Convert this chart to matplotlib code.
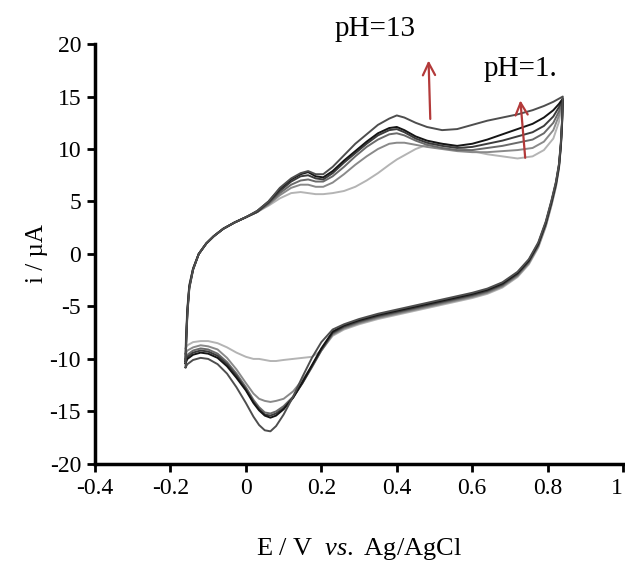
import numpy as np
import matplotlib
matplotlib.use("Agg")
import matplotlib.pyplot as plt

# potential grids (V vs Ag/AgCl): forward (anodic) and reverse (cathodic) sweeps
E_fwd = [-0.160, -0.158, -0.155, -0.150, -0.140, -0.125, -0.105, -0.085, -0.060, -0.030,
         0.000, 0.030, 0.060, 0.090, 0.120, 0.145, 0.165, 0.185, 0.205, 0.230,
         0.260, 0.290, 0.320, 0.350, 0.380, 0.400, 0.420, 0.450, 0.480, 0.520,
         0.560, 0.600, 0.640, 0.680, 0.720, 0.760, 0.790, 0.815, 0.830, 0.840]
E_rev = [0.840, 0.838, 0.835, 0.830, 0.822, 0.810, 0.795, 0.775, 0.750, 0.720,
         0.680, 0.640, 0.600, 0.550, 0.500, 0.450, 0.400, 0.350, 0.300, 0.260,
         0.230, 0.200, 0.175, 0.150, 0.125, 0.100, 0.080, 0.065, 0.050, 0.035,
         0.020, 0.000, -0.025, -0.050, -0.075, -0.100, -0.120, -0.140, -0.155, -0.160]

# currents (uA), from pH=1 (lightest) to pH=13
i1_fwd = [-9.0, -7.0, -5.0, -2.9, -1.4, 0.0, 1.0, 1.7, 2.4, 3.0,
          3.5, 4.0, 4.6, 5.3, 5.8, 5.9, 5.8, 5.7, 5.7, 5.8,
          6.0, 6.4, 7.0, 7.7, 8.5, 9.0, 9.4, 10.0, 10.4, 10.5,
          10.2, 9.8, 9.5, 9.3, 9.1, 9.3, 9.9, 11.0, 12.6, 14.8]
i1_rev = [14.8, 12.4, 10.3, 8.2, 6.4, 4.6, 2.6, 0.6, -1.0, -2.2,
          -3.2, -3.8, -4.2, -4.6, -5.0, -5.4, -5.8, -6.2, -6.7, -7.2,
          -7.8, -9.2, -9.8, -9.9, -10.0, -10.1, -10.2, -10.2, -10.1, -10.0,
          -10.0, -9.8, -9.4, -8.9, -8.5, -8.3, -8.3, -8.4, -8.7, -9.0]

i2_fwd = [-9.5, -7.5, -5.2, -3.0, -1.4, 0.0, 1.0, 1.7, 2.4, 3.0,
          3.5, 4.0, 4.7, 5.6, 6.3, 6.6, 6.6, 6.4, 6.4, 6.8,
          7.6, 8.5, 9.3, 10.0, 10.5, 10.6, 10.6, 10.4, 10.2, 10.0,
          9.8, 9.7, 9.7, 9.8, 9.9, 10.1, 10.7, 11.8, 13.2, 14.6]
i2_rev = [14.6, 12.2, 10.2, 8.2, 6.5, 4.7, 2.7, 0.7, -0.9, -2.1,
          -3.1, -3.7, -4.1, -4.5, -4.9, -5.3, -5.7, -6.1, -6.6, -7.1,
          -7.7, -9.2, -10.7, -12.0, -13.1, -13.8, -14.0, -14.1, -14.0, -13.8,
          -13.3, -12.3, -11.0, -9.9, -9.1, -8.8, -8.7, -8.9, -9.2, -9.5]

i3_fwd = [-10.0, -7.8, -5.3, -3.1, -1.4, 0.0, 1.0, 1.7, 2.4, 3.0,
          3.5, 4.0, 4.8, 5.8, 6.6, 7.0, 7.1, 6.9, 6.9, 7.4,
          8.3, 9.3, 10.2, 10.9, 11.4, 11.5, 11.3, 10.8, 10.4, 10.1,
          9.9, 9.9, 10.1, 10.3, 10.6, 10.9, 11.5, 12.5, 13.6, 14.6]
i3_rev = [14.6, 12.3, 10.3, 8.3, 6.6, 4.8, 2.8, 0.8, -0.8, -2.0,
          -3.0, -3.6, -4.0, -4.4, -4.8, -5.2, -5.6, -6.0, -6.5, -7.0,
          -7.6, -9.2, -10.8, -12.3, -13.6, -14.5, -15.0, -15.2, -15.1, -14.6,
          -13.9, -12.7, -11.4, -10.3, -9.5, -9.1, -9.0, -9.2, -9.6, -10.0]

i4_fwd = [-10.2, -7.9, -5.4, -3.1, -1.4, 0.0, 1.0, 1.7, 2.4, 3.0,
          3.5, 4.0, 4.9, 6.0, 6.9, 7.4, 7.5, 7.2, 7.1, 7.7,
          8.7, 9.6, 10.5, 11.3, 11.8, 11.9, 11.6, 11.0, 10.6, 10.3,
          10.1, 10.2, 10.5, 10.8, 11.2, 11.6, 12.2, 13.1, 14.0, 14.7]
i4_rev = [14.7, 12.4, 10.4, 8.4, 6.7, 4.9, 2.9, 0.9, -0.7, -1.9,
          -2.9, -3.5, -3.9, -4.3, -4.7, -5.1, -5.5, -5.9, -6.4, -6.9,
          -7.5, -9.1, -10.7, -12.3, -13.7, -14.7, -15.2, -15.4, -15.3, -14.8,
          -14.1, -12.9, -11.6, -10.5, -9.7, -9.3, -9.2, -9.4, -9.8, -10.2]

i5_fwd = [-10.4, -8.0, -5.5, -3.2, -1.5, 0.0, 1.0, 1.7, 2.4, 3.0,
          3.5, 4.1, 5.0, 6.2, 7.1, 7.6, 7.8, 7.4, 7.3, 7.9,
          8.9, 9.8, 10.7, 11.5, 12.0, 12.1, 11.8, 11.2, 10.8, 10.5,
          10.3, 10.5, 10.9, 11.4, 11.9, 12.4, 13.0, 13.7, 14.3, 14.8]
i5_rev = [14.8, 12.5, 10.5, 8.5, 6.8, 5.0, 3.0, 1.0, -0.6, -1.8,
          -2.8, -3.4, -3.8, -4.2, -4.6, -5.0, -5.4, -5.8, -6.3, -6.8,
          -7.4, -9.0, -10.6, -12.2, -13.7, -14.8, -15.4, -15.6, -15.4, -14.9,
          -14.2, -13.0, -11.8, -10.7, -9.9, -9.5, -9.4, -9.6, -10.0, -10.4]

i6_fwd = [-10.8, -8.3, -5.7, -3.3, -1.5, 0.0, 1.0, 1.7, 2.4, 3.0,
          3.5, 4.1, 5.0, 6.3, 7.2, 7.7, 7.9, 7.6, 7.6, 8.3,
          9.4, 10.5, 11.4, 12.3, 12.9, 13.2, 13.0, 12.5, 12.1, 11.8,
          11.9, 12.3, 12.7, 13.0, 13.3, 13.7, 14.1, 14.5, 14.8, 15.0]
i6_rev = [15.0, 12.7, 10.7, 8.6, 6.9, 5.1, 3.1, 1.1, -0.5, -1.7,
          -2.7, -3.3, -3.7, -4.1, -4.5, -4.9, -5.3, -5.7, -6.2, -6.7,
          -7.2, -8.4, -9.9, -11.7, -13.6, -15.3, -16.4, -16.9, -16.8, -16.3,
          -15.5, -14.2, -12.7, -11.4, -10.5, -10.0, -9.9, -10.1, -10.5, -10.8]

curves = [(i1_fwd, i1_rev), (i2_fwd, i2_rev), (i3_fwd, i3_rev),
          (i4_fwd, i4_rev), (i5_fwd, i5_rev), (i6_fwd, i6_rev)]
colors = ['#b4b4b4', '#8a8a8a', '#6a6a6a', '#3c3c3c', '#151515', '#4e4e4e']

x_ticks = [-0.4, -0.2, 0, 0.2, 0.4, 0.6, 0.8, 1]
x_labels = ['-0.4', '-0.2', '0', '0.2', '0.4', '0.6', '0.8', '1']
y_ticks = [-20, -15, -10, -5, 0, 5, 10, 15, 20]

plt.rcParams['font.family'] = ['Liberation Serif', 'DejaVu Serif']
plt.rcParams['axes.unicode_minus'] = False
plt.rcParams['mathtext.fontset'] = 'custom'
plt.rcParams['mathtext.rm'] = 'Liberation Serif'
plt.rcParams['mathtext.it'] = 'Liberation Serif:italic'

fig = plt.figure(figsize=(6.25, 5.65), dpi=100)
ax = fig.add_axes([0.152, 0.179, 0.845, 0.743])

E = np.concatenate([E_fwd, E_rev[1:]])
for (fwd, rev), c in zip(curves, colors):
    cur = np.concatenate([fwd, rev[1:]])
    ax.plot(E, cur, color=c, lw=1.4, solid_joinstyle='round')

ax.set_xlim(-0.4, 1)
ax.set_ylim(-20, 20)
ax.set_xticks(x_ticks)
ax.set_xticklabels(x_labels)
ax.set_yticks(y_ticks)
ax.tick_params(direction='out', length=6, width=2, labelsize=17, pad=4)
# the last x label sits at the figure edge; keep it inside
ax.get_xticklabels()[-1].set_horizontalalignment('right')
for s in ['top', 'right']:
    ax.spines[s].set_visible(False)
for s in ['left', 'bottom']:
    ax.spines[s].set_linewidth(2.5)

ax.set_ylabel('i / µA', fontsize=18, labelpad=1)
ax.set_xlabel(r'E / V  $\it{vs.}$ Ag/AgCl', fontsize=19, labelpad=27)

arrow_col = '#b33a3a'
ax.annotate('', xy=(0.484, 18.7), xytext=(0.489, 12.6),
            arrowprops=dict(arrowstyle='->', color=arrow_col, lw=1.6, mutation_scale=22))
ax.annotate('', xy=(0.727, 14.9), xytext=(0.741, 8.9),
            arrowprops=dict(arrowstyle='->', color=arrow_col, lw=1.6, mutation_scale=22))
ax.text(0.343, 21.4, 'pH=13', fontsize=21, ha='center', va='center', clip_on=False)
ax.text(0.727, 17.6, 'pH=1.', fontsize=21, ha='center', va='center', clip_on=False)

fig.savefig('out.png', dpi=100)
